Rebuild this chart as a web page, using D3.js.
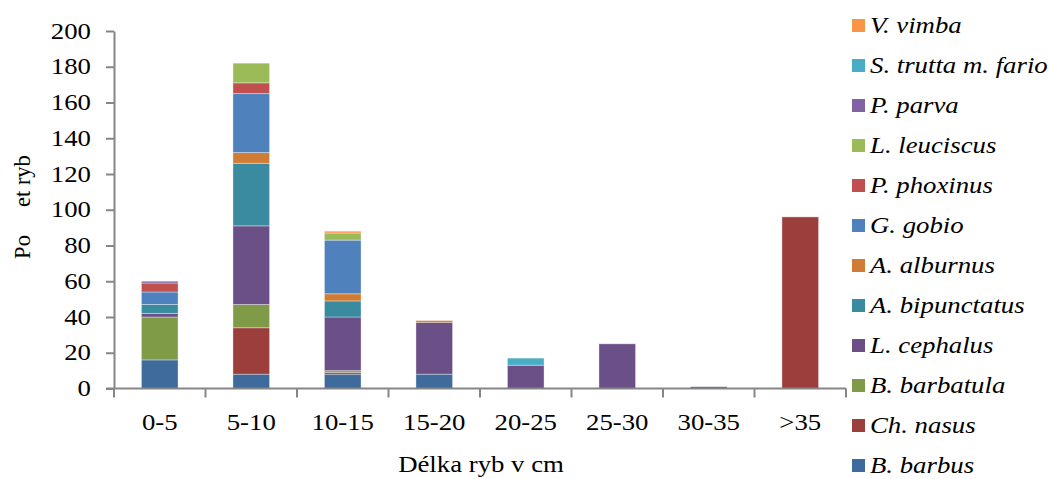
<!DOCTYPE html>
<html>
<head>
<meta charset="utf-8">
<script src="https://cdn.jsdelivr.net/npm/d3@7"></script>
<style>
  html, body { margin: 0; padding: 0; background: #fff; }
  svg { display: block; }
  text { font-family: "Liberation Serif", "Times New Roman", serif; fill: #000; }
</style>
</head>
<body>
<svg id="chart" width="1049" height="479"></svg>
<script>
// Length classes (cm)
const categories = ["0-5", "5-10", "10-15", "15-20", "20-25", "25-30", "30-35", ">35"];

// Species, stacked from bottom to top
const species = ["B. barbus", "Ch. nasus", "B. barbatula", "L. cephalus", "A. bipunctatus",
                 "A. alburnus", "G. gobio", "P. phoxinus", "L. leuciscus", "P. parva",
                 "S. trutta m. fario", "V. vimba"];

// Fish counts per length class
const barbus      = [16,  8,  8,  8,  0,  0, 0,  0];
const nasus       = [ 0, 26,  1,  0,  0,  0, 0, 96];
const barbatula   = [24, 13,  1,  0,  0,  0, 0,  0];
const cephalus    = [ 2, 44, 30, 29, 13, 25, 1,  0];
const bipunctatus = [ 5, 35,  9,  0,  0,  0, 0,  0];
const alburnus    = [ 0,  6,  4,  1,  0,  0, 0,  0];
const gobio       = [ 7, 33, 30,  0,  0,  0, 0,  0];
const phoxinus    = [ 5,  6,  0,  0,  0,  0, 0,  0];
const leuciscus   = [ 0, 11,  4,  0,  0,  0, 0,  0];
const parva       = [ 1,  0,  0,  0,  0,  0, 0,  0];
const trutta      = [ 0,  0,  0,  0,  4,  0, 0,  0];
const vimba       = [ 0,  0,  1,  0,  0,  0, 0,  0];

const yTicks = [0, 20, 40, 60, 80, 100, 120, 140, 160, 180, 200];

const seriesValues = [barbus, nasus, barbatula, cephalus, bipunctatus, alburnus,
                      gobio, phoxinus, leuciscus, parva, trutta, vimba];

const colors = ["#3F6A9C", "#9C3F3C", "#7F9B47", "#6A5087", "#3A8B9F", "#D07C35",
                "#4F81BD", "#C0504D", "#9BBB59", "#8064A2", "#4BACC6", "#F79646"];

// Rows for d3.stack
const rows = categories.map((c, i) => {
  const r = { cat: c };
  species.forEach((s, j) => { r[s] = seriesValues[j][i]; });
  return r;
});

const svg = d3.select("#chart");
const plotLeft = 114, plotRight = 846, plotTop = 31, plotBottom = 388.5;
const fontSize = 22.5;
const stretch = 1.19;   // wide serif lettering

const x = d3.scaleBand().domain(categories).range([plotLeft, plotRight])
  .paddingInner(0.6).paddingOuter(0.3);
const y = d3.scaleLinear().domain([0, 200]).range([plotBottom, plotTop]);
const color = d3.scaleOrdinal().domain(species).range(colors);

const stacked = d3.stack().keys(species)(rows);

// Bars
svg.append("g")
  .selectAll("g")
  .data(stacked)
  .join("g")
  .attr("fill", d => color(d.key))
  .selectAll("rect")
  .data(d => d.filter(p => p[1] - p[0] > 0))
  .join("rect")
  .attr("x", d => x(d.data.cat))
  .attr("width", x.bandwidth())
  .attr("y", d => y(d[1]))
  .attr("height", d => y(d[0]) - y(d[1]))
  .attr("stroke", "rgba(255,255,255,0.35)")
  .attr("stroke-width", 1);

const axisColor = "#868686";

// Y axis
const yAxis = svg.append("g")
  .attr("transform", `translate(${plotLeft},0)`)
  .call(d3.axisLeft(y).tickValues(yTicks).tickSize(8).tickPadding(14).tickSizeOuter(0));
yAxis.select(".domain").attr("stroke", axisColor).attr("stroke-width", 2);
yAxis.selectAll(".tick line").attr("stroke", axisColor).attr("stroke-width", 2);
yAxis.selectAll(".tick text")
  .attr("font-family", "'Liberation Serif', serif")
  .attr("font-size", fontSize)
  .attr("fill", "#000")
  .attr("x", 0)
  .attr("transform", `translate(-23,0) scale(${stretch},1)`);

// X axis: baseline plus ticks at class boundaries
const xAxis = svg.append("g");
xAxis.append("line")
  .attr("x1", plotLeft - 8).attr("x2", plotRight)
  .attr("y1", plotBottom).attr("y2", plotBottom)
  .attr("stroke", axisColor).attr("stroke-width", 2);
const boundaries = d3.range(categories.length + 1).map(i => plotLeft + i * x.step());
xAxis.selectAll("line.tick")
  .data(boundaries)
  .join("line")
  .attr("class", "tick")
  .attr("x1", d => d).attr("x2", d => d)
  .attr("y1", plotBottom).attr("y2", plotBottom + 9)
  .attr("stroke", axisColor).attr("stroke-width", 2);
xAxis.selectAll("text")
  .data(categories)
  .join("text")
  .attr("transform", d => `translate(${x(d) + x.bandwidth() / 2},430) scale(${stretch},1)`)
  .attr("text-anchor", "middle")
  .attr("font-size", fontSize)
  .text(d => d);

// Axis titles
svg.append("text")
  .attr("transform", `translate(481,472) scale(${stretch},1)`)
  .attr("text-anchor", "middle")
  .attr("font-size", fontSize)
  .text("Délka ryb v cm");

svg.append("text")
  .attr("transform", "translate(30,207) rotate(-90)")
  .attr("text-anchor", "middle")
  .attr("font-size", fontSize)
  .style("white-space", "pre")
  .text("Po\u2003 et ryb");

// Legend (top species first)
const legend = svg.append("g");
const legendItems = species.slice().reverse();
const legendRow = 40;
legendItems.forEach((s, i) => {
  const cy = 25.5 + i * legendRow;
  legend.append("rect")
    .attr("x", 852).attr("y", cy - 6.5)
    .attr("width", 13).attr("height", 13)
    .attr("fill", color(s));
  legend.append("text")
    .attr("transform", `translate(870,${cy + 7.5}) scale(${stretch},1)`)
    .attr("font-size", fontSize)
    .attr("font-style", "italic")
    .text(s);
});
</script>
</body>
</html>
